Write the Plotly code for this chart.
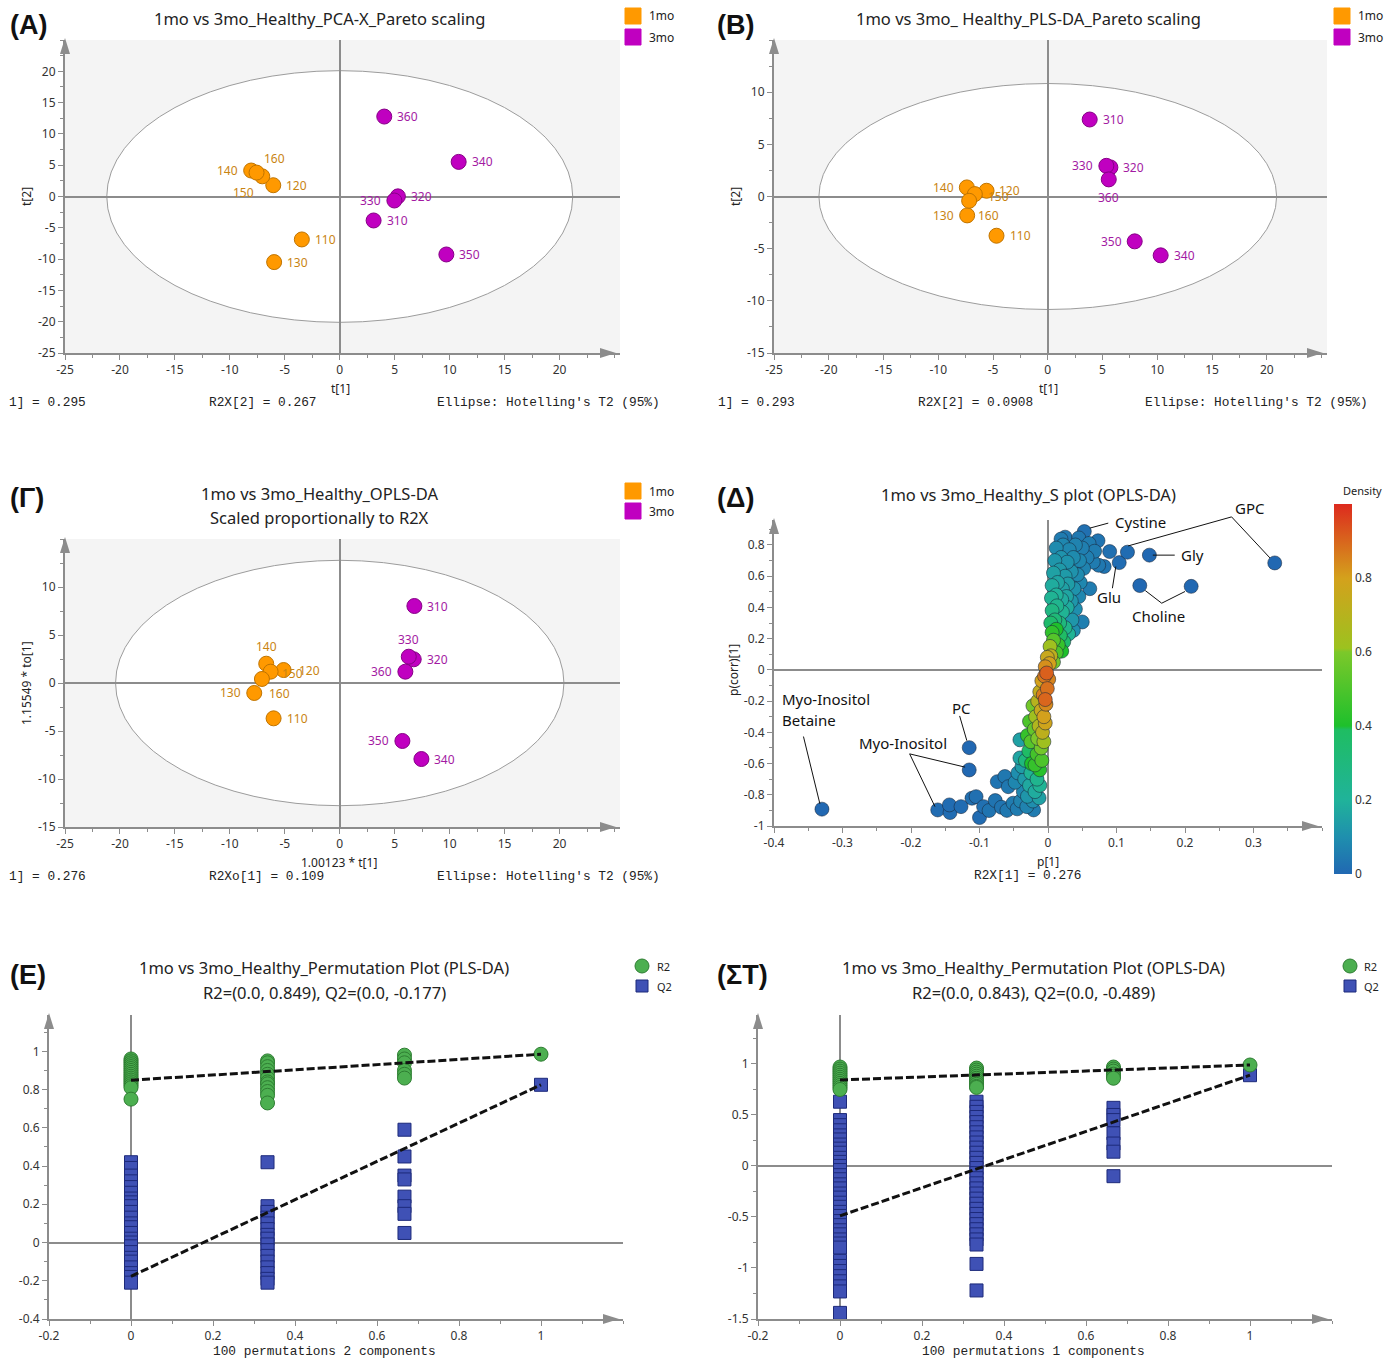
import plotly.graph_objects as go

# ---------------------------------------------------------------- data
ids_1mo = ["110", "120", "130", "140", "150", "160"]
ids_3mo = ["310", "320", "330", "340", "350", "360"]

# (A) PCA-X scores, Pareto scaling
pca_t1_1mo = [-3.45, -6.05, -5.97, -8.06, -7.05, -7.57]
pca_t2_1mo = [-6.86, 1.80, -10.48, 4.15, 3.22, 3.82]
pca_t1_3mo = [3.08, 5.29, 4.97, 10.82, 9.70, 4.05]
pca_t2_3mo = [-3.83, 0.02, -0.64, 5.53, -9.26, 12.77]

# (B) PLS-DA scores, Pareto scaling
pls_t1_1mo = [-4.68, -5.59, -7.36, -7.39, -6.66, -7.18]
pls_t2_1mo = [-3.76, 0.55, -1.81, 0.87, 0.23, -0.41]
pls_t1_3mo = [3.83, 5.72, 5.35, 10.31, 7.94, 5.57]
pls_t2_3mo = [7.38, 2.79, 2.94, -5.64, -4.30, 1.64]

# (Γ) OPLS-DA scores (scaled proportionally to R2X)
opls_t1_1mo = [-6.02, -5.11, -7.78, -6.69, -6.29, -7.08]
opls_to1_1mo = [-3.68, 1.35, -1.04, 2.01, 1.18, 0.42]
opls_t1_3mo = [6.79, 6.73, 6.28, 7.43, 5.70, 5.97]
opls_to1_3mo = [8.02, 2.47, 2.74, -7.92, -6.04, 1.18]

# Hotelling's T2 (95%) ellipse half-axes (t1, t2)
ellipse_pca = (21.2, 20.1)
ellipse_pls = (20.9, 10.83)
ellipse_opls = (20.4, 12.78)

# (Δ) S-plot: loading p[1], correlation p(corr)[1], point density
s_p1 = [
    -0.330, -0.115, -0.115, -0.161, -0.143, -0.144, -0.127, -0.111, -0.105, -0.100,
    -0.094, -0.086, -0.077, -0.074, -0.063, -0.058, -0.051, -0.068, -0.060, -0.045,
    -0.040, -0.036, -0.031, -0.021, -0.048, -0.044, -0.041, -0.041, -0.038, -0.034,
    -0.030, -0.027, -0.025, -0.022, -0.019, -0.016, -0.013, -0.012, -0.033, -0.028,
    -0.024, -0.019, -0.016, -0.012, -0.009, -0.030, -0.025, -0.020, -0.015, -0.010,
    -0.006, -0.027, -0.018, -0.013, -0.008, -0.004, -0.022, -0.015, -0.010, -0.006,
    -0.003, -0.012, -0.007, -0.004, -0.001, -0.009, -0.005, -0.002, 0.001, -0.004,
    0.002, -0.001, 0.004, 0.008, 0.012, 0.003, 0.008, 0.015, 0.020, 0.006,
    0.012, 0.018, 0.023, 0.004, 0.010, 0.017, 0.025, 0.030, 0.037, 0.050,
    0.035, 0.006, 0.013, 0.021, 0.028, 0.040, 0.005, 0.012, 0.020, 0.027,
    0.034, 0.045, 0.006, 0.014, 0.021, 0.029, 0.038, 0.047, 0.061, 0.008,
    0.017, 0.025, 0.034, 0.043, 0.052, 0.010, 0.019, 0.028, 0.037, 0.046,
    0.057, 0.066, 0.074, 0.012, 0.022, 0.031, 0.040, 0.050, 0.060, 0.068,
    0.073, 0.019, 0.025, 0.045, 0.053, 0.082, 0.090, 0.104, 0.116, 0.148,
    0.134, 0.209, 0.331,
]
s_pcorr = [
    -0.892, -0.498, -0.641, -0.897, -0.914, -0.865, -0.876, -0.822, -0.812, -0.946,
    -0.876, -0.901, -0.837, -0.716, -0.683, -0.748, -0.854, -0.880, -0.900, -0.890,
    -0.840, -0.780, -0.876, -0.897, -0.720, -0.660, -0.448, -0.564, -0.620, -0.700,
    -0.810, -0.740, -0.660, -0.840, -0.780, -0.700, -0.820, -0.740, -0.580, -0.520,
    -0.600, -0.609, -0.540, -0.640, -0.580, -0.420, -0.460, -0.380, -0.440, -0.500,
    -0.460, -0.330, -0.300, -0.360, -0.400, -0.340, -0.230, -0.200, -0.260, -0.300,
    -0.220, -0.140, -0.160, -0.190, -0.120, -0.070, -0.040, -0.020, -0.060, 0.020,
    0.040, 0.080, 0.090, 0.050, 0.110, 0.150, 0.190, 0.160, 0.120, 0.240,
    0.260, 0.220, 0.180, 0.300, 0.320, 0.300, 0.270, 0.230, 0.253, 0.307,
    0.320, 0.380, 0.410, 0.370, 0.400, 0.390, 0.460, 0.480, 0.450, 0.470,
    0.440, 0.470, 0.540, 0.560, 0.520, 0.550, 0.520, 0.560, 0.520, 0.620,
    0.640, 0.600, 0.630, 0.610, 0.650, 0.700, 0.720, 0.690, 0.720, 0.700,
    0.720, 0.690, 0.670, 0.780, 0.800, 0.770, 0.800, 0.780, 0.810, 0.760,
    0.827, 0.838, 0.850, 0.845, 0.886, 0.662, 0.758, 0.687, 0.754, 0.735,
    0.540, 0.535, 0.685,
]
s_density = [
    0.00, 0.00, 0.00, 0.01, 0.01, 0.01, 0.01, 0.02, 0.02, 0.01,
    0.02, 0.03, 0.03, 0.03, 0.04, 0.04, 0.05, 0.03, 0.04, 0.05,
    0.07, 0.08, 0.07, 0.05, 0.08, 0.10, 0.15, 0.16, 0.14, 0.13,
    0.12, 0.17, 0.22, 0.10, 0.18, 0.24, 0.15, 0.22, 0.30, 0.38,
    0.40, 0.45, 0.48, 0.42, 0.50, 0.45, 0.52, 0.55, 0.60, 0.58,
    0.62, 0.50, 0.62, 0.68, 0.72, 0.78, 0.58, 0.70, 0.76, 0.80,
    0.84, 0.74, 0.86, 0.90, 0.88, 0.80, 0.87, 0.91, 0.85, 0.83,
    0.80, 0.76, 0.72, 0.58, 0.50, 0.62, 0.52, 0.45, 0.40, 0.44,
    0.40, 0.38, 0.36, 0.36, 0.32, 0.30, 0.26, 0.22, 0.10, 0.06,
    0.12, 0.28, 0.24, 0.22, 0.18, 0.10, 0.22, 0.20, 0.18, 0.16,
    0.12, 0.08, 0.18, 0.16, 0.15, 0.14, 0.11, 0.08, 0.05, 0.15,
    0.13, 0.13, 0.11, 0.09, 0.07, 0.12, 0.11, 0.11, 0.09, 0.08,
    0.06, 0.05, 0.04, 0.09, 0.08, 0.08, 0.07, 0.06, 0.05, 0.05,
    0.03, 0.05, 0.04, 0.04, 0.02, 0.03, 0.02, 0.01, 0.01, 0.00,
    0.00, 0.00, 0.00,
]

# (E) / (ΣT) permutation tests: correlation levels and R2 / Q2 per level
perm_levels = [0.0, 0.333, 0.667, 1.0]
e_r2 = [
    [0.96, 0.95, 0.94, 0.93, 0.92, 0.91, 0.90, 0.89, 0.88, 0.87, 0.86, 0.85, 0.84, 0.83, 0.82, 0.81, 0.75],
    [0.95, 0.94, 0.92, 0.90, 0.88, 0.86, 0.84, 0.83, 0.81, 0.79, 0.77, 0.73],
    [0.98, 0.96, 0.94, 0.90, 0.88, 0.86],
    [0.985],
]
e_q2 = [
    [0.42, 0.39, 0.35, 0.32, 0.29, 0.26, 0.23, 0.21, 0.19, 0.16, 0.13, 0.10, 0.08, 0.05, 0.02, 0.0,
     -0.02, -0.05, -0.08, -0.10, -0.13, -0.16, -0.18, -0.21],
    [0.42, 0.19, 0.16, 0.13, 0.10, 0.07, 0.04, 0.02, -0.01, -0.04, -0.07, -0.10, -0.13, -0.16, -0.19, -0.21],
    [0.59, 0.45, 0.35, 0.33, 0.24, 0.19, 0.15, 0.05],
    [0.825],
]
e_r2_intercept, e_q2_intercept = 0.849, -0.177

st_r2 = [
    [0.97, 0.95, 0.93, 0.91, 0.89, 0.87, 0.85, 0.83, 0.81, 0.79, 0.77, 0.75],
    [0.96, 0.94, 0.92, 0.90, 0.88, 0.86, 0.84, 0.82, 0.80, 0.78, 0.77],
    [0.97, 0.95, 0.93, 0.90, 0.88, 0.86],
    [0.99],
]
st_q2 = [
    [0.63, 0.45, 0.40, 0.35, 0.30, 0.26, 0.21, 0.17, 0.13, 0.08, 0.04, 0.0, -0.04, -0.09, -0.13,
     -0.18, -0.22, -0.27, -0.31, -0.36, -0.40, -0.45, -0.49, -0.54, -0.58, -0.63, -0.67, -0.72,
     -0.76, -0.80, -0.93, -0.98, -1.03, -1.08, -1.13, -1.18, -1.23, -1.44],
    [0.63, 0.58, 0.53, 0.48, 0.43, 0.38, 0.33, 0.28, 0.23, 0.18, 0.13, 0.08, 0.03, -0.02, -0.07,
     -0.12, -0.17, -0.22, -0.27, -0.32, -0.37, -0.42, -0.47, -0.52, -0.57, -0.62, -0.67, -0.72,
     -0.77, -0.96, -1.22],
    [0.57, 0.50, 0.45, 0.32, 0.22, 0.14, -0.10],
    [0.89],
]
st_r2_intercept, st_q2_intercept = 0.843, -0.489

# tick labels
ticks_t = [-25, -20, -15, -10, -5, 0, 5, 10, 15, 20]
ticks_pls_y = [-15, -10, -5, 0, 5, 10]
ticks_opls_y = [-15, -10, -5, 0, 5, 10]
ticks_s_x = [-0.4, -0.3, -0.2, -0.1, 0, 0.1, 0.2, 0.3]
ticks_s_y = [-1, -0.8, -0.6, -0.4, -0.2, 0, 0.2, 0.4, 0.6, 0.8]
ticks_perm_x = [-0.2, 0, 0.2, 0.4, 0.6, 0.8, 1]
ticks_e_y = [-0.4, -0.2, 0, 0.2, 0.4, 0.6, 0.8, 1]
ticks_st_y = [-1.5, -1, -0.5, 0, 0.5, 1]
density_ticks = [0, 0.2, 0.4, 0.6, 0.8]

# ---------------------------------------------------------------- style
W, H = 1391, 1361
SANS = "Noto Sans, Open Sans, sans-serif"
MONO = "Liberation Mono, DejaVu Sans Mono, monospace"
HEAD = "Liberation Sans, Arial, sans-serif"
AXC = "#8c8c8c"
ORANGE, ORANGE_EDGE, ORANGE_TXT = "#ff9900", "#c07400", "#c98412"
MAGENTA, MAGENTA_EDGE, MAGENTA_TXT = "#c000c0", "#860086", "#a31aa3"
GREEN, GREEN_EDGE = "#4caf50", "#2e7d32"
BLUE, BLUE_EDGE = "#3f51b5", "#1d2a7a"
DENSITY_SCALE = [
    [0.0, "#2168b2"], [0.1, "#1f8fae"], [0.2, "#20b39a"], [0.39, "#1fbd62"],
    [0.4, "#1ec02c"], [0.6, "#7cc82a"], [0.61, "#9cc21f"], [0.8, "#d4a11c"],
    [1.0, "#dd2a1e"],
]
TITLE_SIZE = 16.5
MONO_SIZE = 12.8
HEAD_SIZE = 27


def fx(p):
    return p / W


def fy(p):
    return 1 - p / H


def ref(n, kind):
    return kind if n == 1 else f"{kind}{n}"


def fmt(v):
    return f"{v:g}"


fig = go.Figure()
shapes, annos, axes = [], [], {}


def add_axes(n, box, xr, yr, xt, yt, xminor, yminor):
    x0, y0, x1, y1 = box
    common = dict(
        showline=True, linecolor=AXC, linewidth=2, ticks="outside", ticklen=5,
        tickwidth=1, tickcolor=AXC, tickfont=dict(family=SANS, size=12, color="#333333"),
        showgrid=False, zeroline=True, zerolinecolor=AXC, zerolinewidth=1.5,
        fixedrange=True, tickmode="array", automargin=False,
    )
    axes[ref(n, "x").replace("x", "xaxis")] = dict(
        common, domain=[fx(x0), fx(x1)], range=xr, anchor=ref(n, "y"),
        tickvals=xt, ticktext=[fmt(v) for v in xt],
        minor=dict(ticks="outside", ticklen=3, tickcolor=AXC, dtick=xminor, tick0=0),
    )
    axes[ref(n, "y").replace("y", "yaxis")] = dict(
        common, domain=[fy(y1), fy(y0)], range=yr, anchor=ref(n, "x"),
        tickvals=yt, ticktext=[fmt(v) for v in yt],
        minor=dict(ticks="outside", ticklen=3, tickcolor=AXC, dtick=yminor, tick0=0),
    )
    # arrow heads on the axes
    shapes.append(dict(
        type="path", xref="paper", yref="paper", layer="above", fillcolor=AXC, line=dict(width=0),
        path=f"M {fx(x0 - 5)},{fy(y0 + 14)} L {fx(x0)},{fy(y0 - 2)} L {fx(x0 + 5)},{fy(y0 + 14)} Z",
    ))
    shapes.append(dict(
        type="path", xref="paper", yref="paper", layer="above", fillcolor=AXC, line=dict(width=0),
        path=f"M {fx(x1 - 20)},{fy(y1 - 5)} L {fx(x1 - 4)},{fy(y1)} L {fx(x1 - 20)},{fy(y1 + 5)} Z",
    ))


def txt(x, y, s, size=12, color="#222222", xanchor="center", family=SANS, angle=0):
    annos.append(dict(
        x=fx(x), y=fy(y), xref="paper", yref="paper", text=s, showarrow=False,
        xanchor=xanchor, yanchor="middle", textangle=angle,
        font=dict(family=family, size=size, color=color),
    ))


def square(x0, y0, x1, y1, color, edge=None):
    shapes.append(dict(type="rect", xref="paper", yref="paper", x0=fx(x0), x1=fx(x1),
                       y0=fy(y1), y1=fy(y0), fillcolor=color,
                       line=dict(color=edge or color, width=1), layer="above"))


def score_panel(n, ellipse, t1a, t2a, t1b, t2b, lab_a, lab_b):
    xr, yr = ref(n, "x"), ref(n, "y")
    shapes.append(dict(type="rect", xref=f"{xr} domain", yref=f"{yr} domain", x0=0, x1=1,
                       y0=0, y1=1, fillcolor="#f4f4f4", line=dict(width=0), layer="below"))
    a, b = ellipse
    shapes.append(dict(type="circle", xref=xr, yref=yr, x0=-a, x1=a, y0=-b, y1=b,
                       fillcolor="white", line=dict(color="#9c9c9c", width=1), layer="below"))
    for t1, t2, ids, col, edge, tcol, labs, name in (
        (t1a, t2a, ids_1mo, ORANGE, ORANGE_EDGE, ORANGE_TXT, lab_a, "1mo"),
        (t1b, t2b, ids_3mo, MAGENTA, MAGENTA_EDGE, MAGENTA_TXT, lab_b, "3mo"),
    ):
        fig.add_trace(go.Scatter(
            x=t1, y=t2, mode="markers", name=name, text=ids, showlegend=False,
            xaxis=xr, yaxis=yr, marker=dict(size=15, color=col, line=dict(color=edge, width=1)),
        ))
        for xv, yv, s, (anc, dx, dy) in zip(t1, t2, ids, labs):
            annos.append(dict(
                x=xv, y=yv, xref=xr, yref=yr, text=s, showarrow=False, xanchor=anc,
                yanchor="middle", xshift=dx, yshift=dy,
                font=dict(family=SANS, size=12, color=tcol),
            ))


L, R = ("left", 11, 0), ("right", -11, 0)

# ---------------------------------------------------------------- (A)
add_axes(1, (65, 40, 620, 353), [-25, 25.5], [-25, 25], ticks_t, ticks_t, 2.5, 2.5)
score_panel(1, ellipse_pca, pca_t1_1mo, pca_t2_1mo, pca_t1_3mo, pca_t2_3mo,
            [L, L, L, R, ("center", -19, -16), ("center", 18, 14)],
            [L, L, R, L, L, L])
txt(8, 25, "<b>(A)</b>", size=HEAD_SIZE, color="#111111", xanchor="left", family=HEAD)
txt(319.5, 18, "1mo vs 3mo_Healthy_PCA-X_Pareto scaling", size=TITLE_SIZE)
square(625, 8, 641, 24, ORANGE)
square(625, 29, 641, 45, MAGENTA)
txt(647, 16, "1mo", size=12, xanchor="left")
txt(647, 37, "3mo", size=12, xanchor="left")
txt(26, 196, "t[2]", angle=-90)
txt(340, 388, "t[1]")
txt(7, 402, "1] = 0.295", size=MONO_SIZE, xanchor="left", family=MONO)
txt(207, 402, "R2X[2] = 0.267", size=MONO_SIZE, xanchor="left", family=MONO)
txt(662, 402, "Ellipse: Hotelling's T2 (95%)", size=MONO_SIZE, xanchor="right", family=MONO)

# ---------------------------------------------------------------- (B)
add_axes(2, (774, 40, 1327, 353), [-25, 25.5], [-15, 15], ticks_t, ticks_pls_y, 2.5, 2.5)
score_panel(2, ellipse_pls, pls_t1_1mo, pls_t2_1mo, pls_t1_3mo, pls_t2_3mo,
            [L, ("left", 10, 0), R, R, ("left", 11, -2), ("center", 19, -15)],
            [L, L, R, L, R, ("center", 0, -18)])
txt(715, 25, "<b>(B)</b>", size=HEAD_SIZE, color="#111111", xanchor="left", family=HEAD)
txt(1028, 18, "1mo vs 3mo_ Healthy_PLS-DA_Pareto scaling", size=TITLE_SIZE)
square(1334, 8, 1350, 24, ORANGE)
square(1334, 29, 1350, 45, MAGENTA)
txt(1356, 16, "1mo", size=12, xanchor="left")
txt(1356, 37, "3mo", size=12, xanchor="left")
txt(735, 196, "t[2]", angle=-90)
txt(1048, 388, "t[1]")
txt(716, 402, "1] = 0.293", size=MONO_SIZE, xanchor="left", family=MONO)
txt(916, 402, "R2X[2] = 0.0908", size=MONO_SIZE, xanchor="left", family=MONO)
txt(1370, 402, "Ellipse: Hotelling's T2 (95%)", size=MONO_SIZE, xanchor="right", family=MONO)

# ---------------------------------------------------------------- (Γ)
add_axes(3, (65, 539, 620, 827), [-25, 25.5], [-15, 15], ticks_t, ticks_opls_y, 2.5, 2.5)
score_panel(3, ellipse_opls, opls_t1_1mo, opls_to1_1mo, opls_t1_3mo, opls_to1_3mo,
            [L, ("left", 13, 0), R, ("center", 0, 17), ("left", 9, -2), ("center", 18, -15)],
            [L, L, ("center", 0, 17), L, R, R])
txt(8, 498, "<b>(Γ)</b>", size=HEAD_SIZE, color="#111111", xanchor="left", family=HEAD)
txt(319.5, 493, "1mo vs 3mo_Healthy_OPLS-DA", size=TITLE_SIZE)
txt(319.5, 517, "Scaled proportionally to R2X", size=TITLE_SIZE)
square(625, 483, 641, 499, ORANGE)
square(625, 503, 641, 519, MAGENTA)
txt(647, 491, "1mo", size=12, xanchor="left")
txt(647, 511, "3mo", size=12, xanchor="left")
txt(26, 683, "1.15549 * to[1]", angle=-90)
txt(339, 862, "1.00123 * t[1]")
txt(7, 876, "1] = 0.276", size=MONO_SIZE, xanchor="left", family=MONO)
txt(207, 876, "R2Xo[1] = 0.109", size=MONO_SIZE, xanchor="left", family=MONO)
txt(662, 876, "Ellipse: Hotelling's T2 (95%)", size=MONO_SIZE, xanchor="right", family=MONO)

# ---------------------------------------------------------------- (Δ) S-plot
S_BOX, S_XR, S_YR = (774, 520, 1322, 826), [-0.4, 0.4], [-1, 0.96]
add_axes(4, S_BOX, S_XR, S_YR, ticks_s_x, ticks_s_y, 0.05, 0.1)
order = sorted(range(len(s_density)), key=lambda i: s_density[i])
fig.add_trace(go.Scatter(
    x=[s_p1[i] for i in order], y=[s_pcorr[i] for i in order], mode="markers",
    showlegend=False, xaxis="x4", yaxis="y4", name="S plot",
    marker=dict(
        size=14, color=[s_density[i] for i in order], colorscale=DENSITY_SCALE, cmin=0, cmax=1,
        line=dict(color="rgba(25,40,60,0.55)", width=1),
        colorbar=dict(
            x=fx(1334), xanchor="left", y=fy(874), yanchor="bottom", len=370, lenmode="pixels",
            thickness=18, thicknessmode="pixels", outlinewidth=0, xpad=0, ypad=0,
            tickmode="array", tickvals=density_ticks, ticktext=[fmt(v) for v in density_ticks],
            ticks="", tickfont=dict(family=SANS, size=12, color="#333333"),
        ),
    ),
))
txt(715, 498, "<b>(Δ)</b>", size=HEAD_SIZE, color="#111111", xanchor="left", family=HEAD)
txt(1028, 494, "1mo vs 3mo_Healthy_S plot (OPLS-DA)", size=TITLE_SIZE)
txt(1362, 490, "Density", size=11)
txt(733, 670, "p(corr)[1]", angle=-90)
txt(1048, 861, "p[1]")
txt(1028, 875, "R2X[1] = 0.276", size=MONO_SIZE, family=MONO)


def s_px(xv, yv):
    """S-plot data units -> page pixels (call-outs may sit above the axis range)."""
    x0, y0, x1, y1 = S_BOX
    return (x0 + (xv - S_XR[0]) / (S_XR[1] - S_XR[0]) * (x1 - x0),
            y1 - (yv - S_YR[0]) / (S_YR[1] - S_YR[0]) * (y1 - y0))


# metabolite call-outs (connector polylines in data units)
callout_lines = [
    [(0.061, 0.908), (0.088, 0.940)],                       # Cystine
    [(0.117, 0.794), (0.268, 0.980), (0.324, 0.717)],       # GPC
    [(0.153, 0.735), (0.185, 0.735)],                       # Gly
    [(0.099, 0.662), (0.094, 0.523)],                       # Glu
    [(0.142, 0.508), (0.166, 0.427), (0.200, 0.502)],       # Choline
    [(-0.129, -0.295), (-0.1185, -0.453)],                  # PC
    [(-0.121, -0.623), (-0.202, -0.538), (-0.165, -0.876)], # Myo-Inositol
    [(-0.357, -0.427), (-0.333, -0.858)],                   # Myo-Inositol / Betaine
]
for pts in callout_lines:
    for (xa, ya), (xb, yb) in zip(pts[:-1], pts[1:]):
        pa, pb = s_px(xa, ya), s_px(xb, yb)
        shapes.append(dict(type="line", xref="paper", yref="paper",
                           x0=fx(pa[0]), y0=fy(pa[1]), x1=fx(pb[0]), y1=fy(pb[1]),
                           line=dict(color="#111111", width=1), layer="above"))
callout_text = [
    (0.0943, 0.948, "Cystine", "left"),
    (0.2945, 1.038, "GPC", "center"),
    (0.1914, 0.735, "Gly", "left"),
    (0.0894, 0.466, "Glu", "center"),
    (0.1608, 0.346, "Choline", "center"),
    (-0.1268, -0.242, "PC", "center"),
    (-0.2118, -0.470, "Myo-Inositol", "center"),
    (-0.3907, -0.186, "Myo-Inositol", "left"),
    (-0.3907, -0.320, "Betaine", "left"),
]
for xv, yv, s, anc in callout_text:
    px_, py_ = s_px(xv, yv)
    txt(px_, py_, s, size=15, color="#111111", xanchor=anc)


# ---------------------------------------------------------------- permutation plots
def perm_panel(n, r2, q2, r2_icpt, q2_icpt):
    xr, yr = ref(n, "x"), ref(n, "y")
    rx = [lv for lv, vals in zip(perm_levels, r2) for _ in vals]
    ry = [v for vals in r2 for v in vals]
    qx = [lv for lv, vals in zip(perm_levels, q2) for _ in vals]
    qy = [v for vals in q2 for v in vals]
    fig.add_trace(go.Scatter(x=qx, y=qy, mode="markers", name="Q2", showlegend=False,
                             xaxis=xr, yaxis=yr,
                             marker=dict(symbol="square", size=13, color=BLUE,
                                         line=dict(color=BLUE_EDGE, width=1))))
    fig.add_trace(go.Scatter(x=rx, y=ry, mode="markers", name="R2", showlegend=False,
                             xaxis=xr, yaxis=yr,
                             marker=dict(symbol="circle", size=14, color=GREEN,
                                         line=dict(color=GREEN_EDGE, width=1))))
    for icpt, vals in ((r2_icpt, r2), (q2_icpt, q2)):
        fig.add_trace(go.Scatter(x=[perm_levels[0], perm_levels[-1]], y=[icpt, vals[-1][0]],
                                 mode="lines", showlegend=False, xaxis=xr, yaxis=yr,
                                 line=dict(color="#111111", width=3, dash="8px,3px")))


add_axes(5, (49, 1015, 623, 1319), [-0.2, 1.2], [-0.4, 1.19], ticks_perm_x, ticks_e_y, 0.1, 0.1)
perm_panel(5, e_r2, e_q2, e_r2_intercept, e_q2_intercept)
txt(8, 975, "<b>(E)</b>", size=HEAD_SIZE, color="#111111", xanchor="left", family=HEAD)
txt(324, 967, "1mo vs 3mo_Healthy_Permutation Plot (PLS-DA)", size=TITLE_SIZE)
txt(324, 992, f"R2=(0.0, {e_r2_intercept}), Q2=(0.0, {e_q2_intercept})", size=TITLE_SIZE)
shapes.append(dict(type="circle", xref="paper", yref="paper", x0=fx(635), x1=fx(649),
                   y0=fy(973), y1=fy(959), fillcolor=GREEN, line=dict(color=GREEN_EDGE, width=1)))
square(636, 980, 648, 992, BLUE, BLUE_EDGE)
txt(655, 966, "R2", size=11, xanchor="left")
txt(655, 986, "Q2", size=11, xanchor="left")
txt(324, 1351, "100 permutations 2 components", size=MONO_SIZE, family=MONO)

add_axes(6, (758, 1015, 1332, 1319), [-0.2, 1.2], [-1.5, 1.48], ticks_perm_x, ticks_st_y, 0.1, 0.25)
perm_panel(6, st_r2, st_q2, st_r2_intercept, st_q2_intercept)
txt(715, 975, "<b>(ΣT)</b>", size=HEAD_SIZE, color="#111111", xanchor="left", family=HEAD)
txt(1033, 967, "1mo vs 3mo_Healthy_Permutation Plot (OPLS-DA)", size=TITLE_SIZE)
txt(1033, 992, f"R2=(0.0, {st_r2_intercept}), Q2=(0.0, {st_q2_intercept})", size=TITLE_SIZE)
shapes.append(dict(type="circle", xref="paper", yref="paper", x0=fx(1343), x1=fx(1357),
                   y0=fy(973), y1=fy(959), fillcolor=GREEN, line=dict(color=GREEN_EDGE, width=1)))
square(1344, 980, 1356, 992, BLUE, BLUE_EDGE)
txt(1362, 966, "R2", size=11, xanchor="left")
txt(1362, 986, "Q2", size=11, xanchor="left")
txt(1033, 1351, "100 permutations 1 components", size=MONO_SIZE, family=MONO)

fig.update_layout(
    width=W, height=H, margin=dict(l=0, r=0, t=0, b=0, pad=0, autoexpand=False),
    paper_bgcolor="white", plot_bgcolor="white",
    shapes=shapes, annotations=annos, showlegend=False, **axes,
)
fig.write_html("out.html")
